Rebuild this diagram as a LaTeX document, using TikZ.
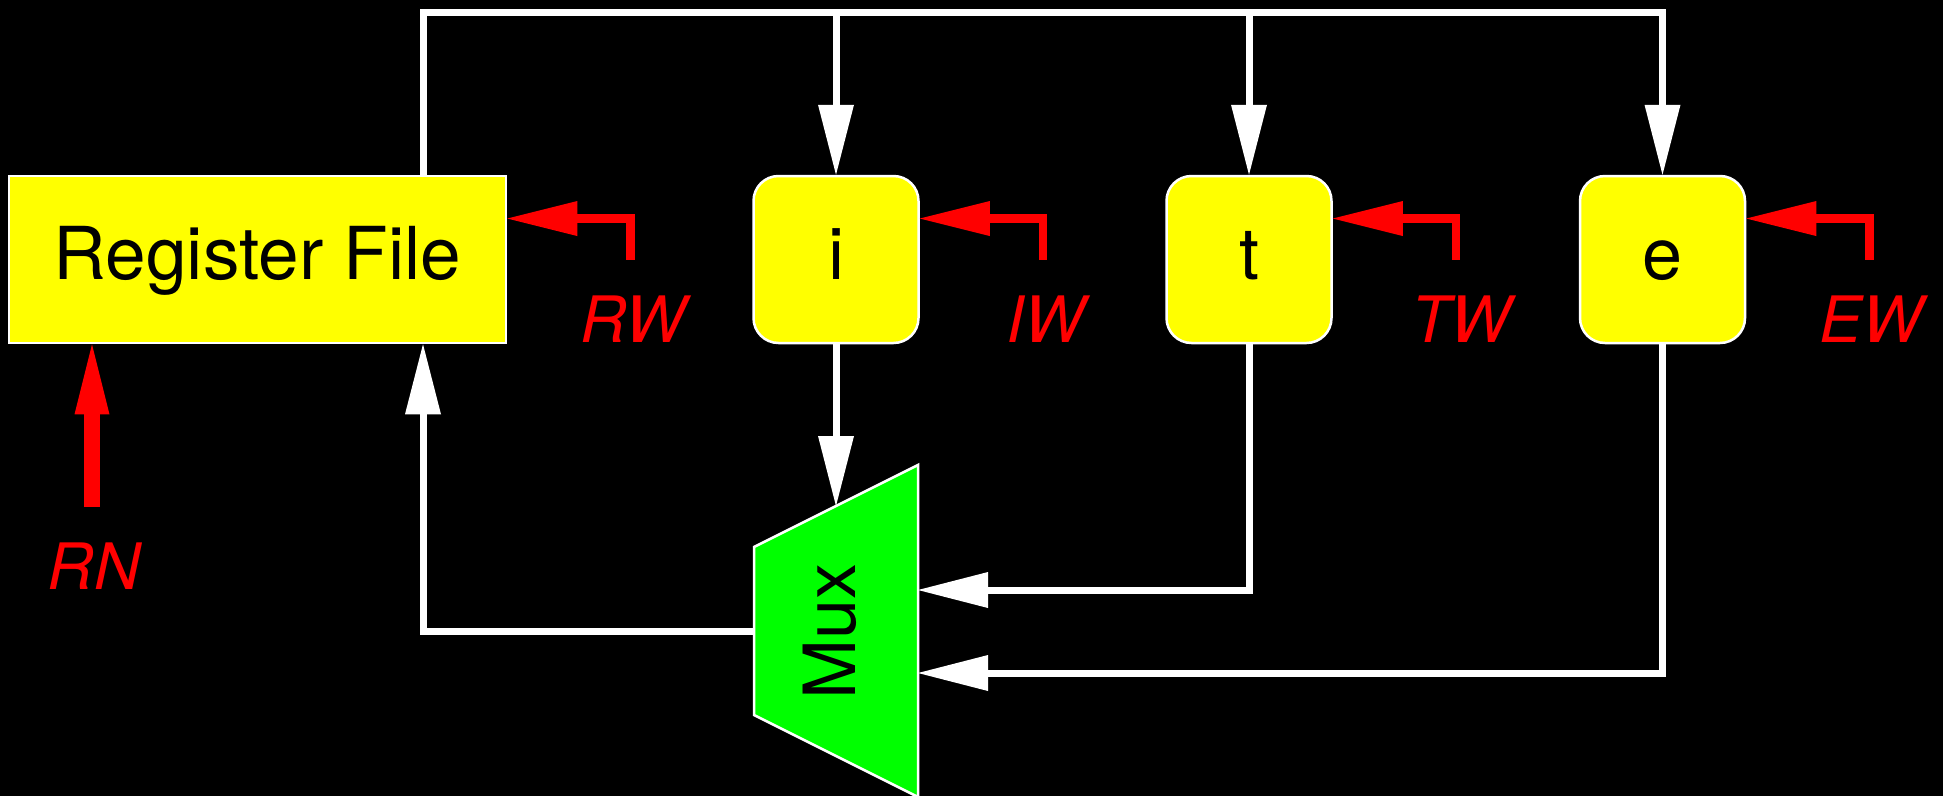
\documentclass[tikz,border=0pt]{standalone}
\usepackage{fontspec}
\setmainfont{TeX Gyre Heros}
\usetikzlibrary{arrows.meta,calc}
\definecolor{boxyellow}{RGB}{255,255,0}
\definecolor{muxgreen}{RGB}{0,255,0}
\definecolor{sigred}{RGB}{255,0,0}
\tikzset{
  wire/.style={draw=white, line width=7pt, line join=miter},
  warrow/.style={wire, -{Triangle[length=70pt,width=36pt,line width=0pt]}},
  redarrow/.style={draw=sigred, line width=8.5pt, line join=miter, -{Triangle[length=70pt,width=35pt,line width=0pt]}},
  rnarrow/.style={draw=sigred, line width=16pt, -{Triangle[length=70pt,width=35pt,line width=0pt]}},
  bigfont/.style={font=\fontsize{72pt}{80pt}\selectfont},
  box/.style={fill=boxyellow, draw=white, line width=2.5pt, inner sep=0pt, minimum height=167pt, text height=54pt, text depth=14pt, bigfont},
  regbox/.style={box, minimum width=165pt, rounded corners=25pt},
  lbl/.style={text=sigred, font=\fontsize{64pt}{70pt}\selectfont\itshape, inner sep=0pt, anchor=base},
  muxshape/.style={fill=muxgreen, draw=white, line width=2.5pt, line join=miter},
}
\begin{document}
\begin{tikzpicture}[x=1pt,y=-1pt]
\fill[black] (0,0) rectangle (1943,796);
\useasboundingbox (0,0) rectangle (1943,796);

% boxes
\node[box, minimum width=497pt, font=\fontsize{73pt}{80pt}\selectfont] (rf) at (257.5,259.5) {Register File};
\node[regbox] (i) at (836,259.5) {i};
\node[regbox] (t) at (1249,259.5) {t};
\node[regbox] (e) at (1662.5,259.5) {e};

% mux
\coordinate (mTL) at (754,547);
\coordinate (mTR) at (918,465);
\coordinate (mBR) at (918,797);
\coordinate (mBL) at (754,715);
\filldraw[muxshape] (mTL) -- (mTR) -- (mBR) -- (mBL) -- cycle;
\node[rotate=90, inner sep=0pt, bigfont] (mux) at (830,631) {Mux};
\coordinate (muxIn) at ($(mTL)!0.5!(mTR)$);
\coordinate (muxOut) at ($(mTL)!0.5!(mBL)$);
\coordinate (muxT) at (918,590);
\coordinate (muxE) at (918,673);

% bus
\coordinate (busL) at (423,12);
\coordinate (busR) at (e.north |- busL);
\draw[warrow] (rf.north -| busL) -- (busL) -- (busR) -- (e.north);
\draw[warrow] (busL -| i.north) -- (i.north);
\draw[warrow] (busL -| t.north) -- (t.north);

% into mux
\draw[warrow] (i.south) -- (muxIn);
\draw[warrow] (t.south) |- (muxT);
\draw[warrow] (e.south) |- (muxE);
\draw[warrow] (muxOut) -| (rf.south -| busL);

% red write enables
\foreach \b in {rf,i,t,e}{
  \draw[redarrow] ($(\b.east)+(123,0)$) -- ++(0,-41) -- ($(\b.east)+(0,-41)$);
}
\node[lbl] (lRW) at (633,342) {RW};
\node[lbl] (lIW) at (1046,342) {IW};
\node[lbl] (lTW) at (1461,342) {TW};
\node[lbl] (lEW) at (1871,342) {EW};

% RN
\coordinate (rnS) at (92,507);
\draw[rnarrow] (rnS) -- (rf.south -| rnS);
\node[lbl] (lRN) at (94,589) {RN};
\end{tikzpicture}
\end{document}
